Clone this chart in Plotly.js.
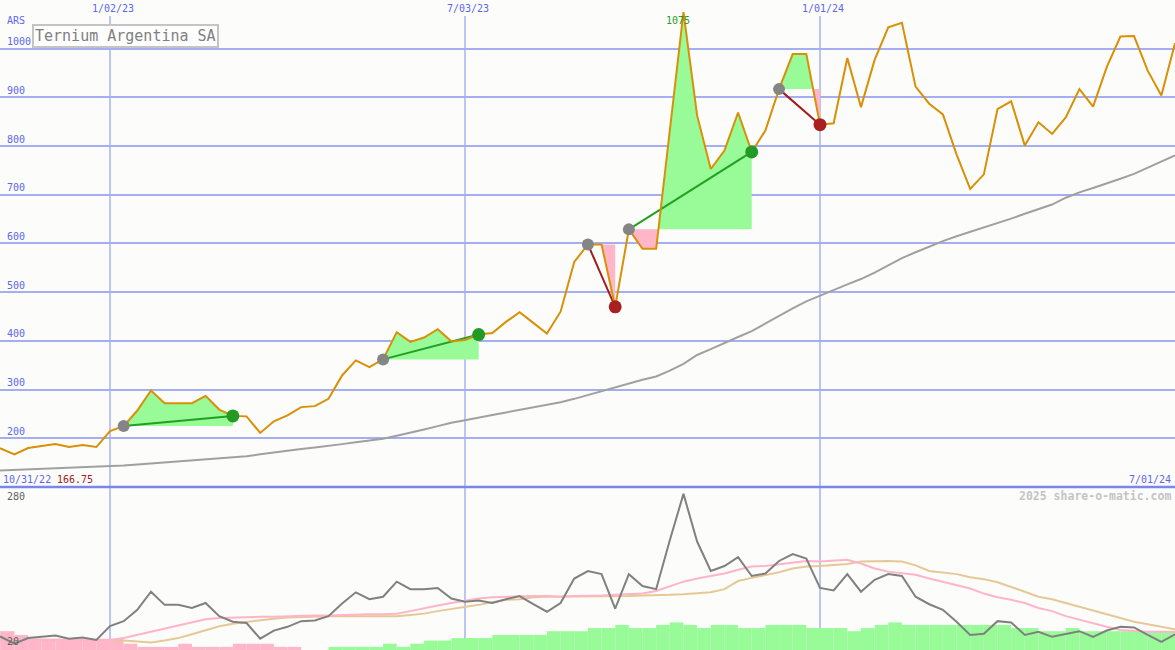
<!DOCTYPE html>
<html><head><meta charset="utf-8">
<script src="https://cdn.plot.ly/plotly-3.0.1.min.js"></script>
<style>html,body{margin:0;padding:0;background:#fcfdfb;}#chart{width:1175px;height:650px;}</style>
</head><body><div id="chart"></div>
<script>
// ---- data (weekly) ----
const dates = ['2022-10-31','2022-11-07','2022-11-14','2022-11-21','2022-11-28','2022-12-05','2022-12-12','2022-12-19','2022-12-26',
'2023-01-02','2023-01-09','2023-01-16','2023-01-23','2023-01-30','2023-02-06','2023-02-13','2023-02-20','2023-02-27','2023-03-06',
'2023-03-13','2023-03-20','2023-03-27','2023-04-03','2023-04-10','2023-04-17','2023-04-24','2023-05-01','2023-05-08','2023-05-15',
'2023-05-22','2023-05-29','2023-06-05','2023-06-12','2023-06-19','2023-06-26','2023-07-03','2023-07-10','2023-07-17','2023-07-24',
'2023-07-31','2023-08-07','2023-08-14','2023-08-21','2023-08-28','2023-09-04','2023-09-11','2023-09-18','2023-09-25','2023-10-02',
'2023-10-09','2023-10-16','2023-10-23','2023-10-30','2023-11-06','2023-11-13','2023-11-20','2023-11-27','2023-12-04','2023-12-11',
'2023-12-18','2023-12-25','2024-01-01','2024-01-08','2024-01-15','2024-01-22','2024-01-29','2024-02-05','2024-02-12','2024-02-19',
'2024-02-26','2024-03-04','2024-03-11','2024-03-18','2024-03-25','2024-04-01','2024-04-08','2024-04-15','2024-04-22','2024-04-29',
'2024-05-06','2024-05-13','2024-05-20','2024-05-27','2024-06-03','2024-06-10','2024-06-17','2024-06-24','2024-07-01'];

const price = [176,179,166.75,180,184,188,182,186,182,
215,225,257,298,272,272,272,287,259,246,
245,211,235,247,264,266,281,329,360,346,
362,418,398,407,424,399,402,413,416,439,
459,437,415,460,562,598,598,470,629,589,
589,832,1075,863,753,791,869,788,832,917,
989,989,844,847,981,880,977,1044,1053,922,
887,865,783,712,742,876,892,801,849,825,
859,917,881,962,1025,1026,955,904,1011];

const priceMA = [133,134,135,136,137,138,139,140,141,
143,144,146,148,150,152,154,156,158,160,
163,167,171,175,178,181,184,188,192,196,
199,205,211,218,225,232,237,243,248,253,
258,263,268,274,281,289,297,305,313,320,
327,339,353,371,383,396,408,420,436,452,
467,481,493,505,516,527,540,555,570,582,
594,605,615,624,632,641,651,661,671,680,
694,705,714,723,733,743,756,768,781];

const lowerLine = [44,41,30,39,41,43,38,40,36,
58,66,84,113,92,92,87,95,74,65,
63,38,51,57,66,67,74,94,112,101,
105,129,117,117,119,102,97,99,95,101,
106,93,81,95,134,146,141,86,141,122,
117,195,269,193,146,154,168,138,142,162,
173,166,119,115,141,113,132,141,138,105,
93,84,65,44,46,66,64,44,49,41,
45,50,41,51,57,56,44,33,45];

const lowerFastMA = [36,36,36,36,36,36,36,36,36,
36,39,44,49,54,59,64,69,71,72,
72,73,73,74,74,75,75,76,76,77,
77,78,82,87,91,95,99,102,104,105,
105,106,106,105,106,106,107,108,109,110,
114,121,129,134,138,142,148,153,154,157,
160,162,161,162,164,158,150,145,143,140,
134,129,124,118,110,104,100,95,87,82,
74,68,62,57,52,50,49,49,49];

const lowerSlowMA = [37,37,37,37,36,36,36,36,36,
36,35,33,32,35,39,45,52,58,62,
65,67,70,72,73,73,74,74,74,73,
73,74,76,78,82,85,89,92,96,100,
101,104,105,105,106,106,106,106,106,107,
107,108,109,110,112,117,130,135,139,144,
150,153,154,155,157,161,162,162,161,155,
146,144,141,136,133,128,121,113,105,101,
95,89,83,77,71,65,61,57,53];

const lowerHist = [-30,-30,-24,-18,-18,-18,-18,-18,-18,
-18,-10,-5,-5,-5,-10,-5,-5,-5,-10,
-10,-10,-5,-5,0,0,5,5,5,5,
10,5,10,15,15,19,19,19,24,24,
24,24,30,30,30,35,35,40,35,35,
40,44,40,35,40,40,35,35,40,40,
40,35,35,35,30,35,40,44,40,40,
40,40,40,40,40,40,35,35,30,30,
35,30,30,30,30,30,30,30,30];

const tradeEntries = ['2023-01-09','2023-05-22','2023-09-04','2023-09-25','2023-12-11'];
const tradeExits   = ['2023-03-06','2023-07-10','2023-09-18','2023-11-27','2024-01-01'];

const yTicks = [200,300,400,500,600,700,800,900,1000];
const dateTicks = ['2023-01-02','2023-07-03','2024-01-01'];
const dateTickLabels = ['1/02/23','7/03/23','1/01/24'];
const titleText = 'Ternium Argentina SA';
const currency = 'ARS';
const startLabel = '10/31/22';
const minLabel = '166.75';
const endLabel = '7/01/24';
const creditText = '2025 share-o-matic.com';
const lowerTop = 280, lowerBottom = 20;

// ---- build ----
const W = 1175, H = 650;
const SPLIT = 0.2508;
const px = v => v / W, py = v => 1 - v / H;
const tms = dates.map(d => Date.parse(d));
const FONT = 'DejaVu Sans Mono';
const BLUE = '#5c66ea';

const traces = [];
// histogram bars (bottom panel)
traces.push({
  type: 'bar', x: dates, y: lowerHist.map(Math.abs), base: lowerBottom,
  width: 7 * 86400000, offset: 0, xaxis: 'x', yaxis: 'y2',
  marker: {color: lowerHist.map(v => v < 0 ? '#ffb6c8' : '#98fb98'), line: {width: 0}},
  hoverinfo: 'skip', showlegend: false
});
[[lowerSlowMA, '#e6c896'], [lowerFastMA, '#ffb4c8'], [lowerLine, '#808080']].forEach(([arr, c]) => {
  traces.push({type: 'scatter', mode: 'lines', x: dates, y: arr, xaxis: 'x', yaxis: 'y2',
    line: {color: c, width: 2}, hoverinfo: 'skip', showlegend: false});
});

// trade fills
function fillsFor(ei, xi) {
  const lvl = price[ei];
  const pts = [];
  for (let i = ei; i <= xi; i++) {
    pts.push([tms[i], price[i]]);
    if (i < xi) {
      const a = price[i] - lvl, b = price[i + 1] - lvl;
      if (a * b < 0) { const f = a / (a - b); pts.push([tms[i] + f * (tms[i + 1] - tms[i]), lvl]); }
    }
  }
  const mk = (fn, color) => {
    const xs = pts.map(p => p[0]), ys = pts.map(p => fn(p[1], lvl));
    xs.push(tms[xi], tms[ei]); ys.push(lvl, lvl);
    return {type: 'scatter', mode: 'lines', x: xs, y: ys, fill: 'toself', fillcolor: color,
      line: {width: 0, color: color}, hoverinfo: 'skip', showlegend: false, xaxis: 'x', yaxis: 'y'};
  };
  return [mk(Math.max, '#98fb98'), mk(Math.min, '#ffb6c8')];
}
const trades = tradeEntries.map((d, j) => {
  const ei = dates.indexOf(d), xi = dates.indexOf(tradeExits[j]);
  return {ei, xi, win: price[xi] >= price[ei]};
});
trades.forEach(t => fillsFor(t.ei, t.xi).forEach(tr => traces.push(tr)));

// long moving average
traces.push({type: 'scatter', mode: 'lines', x: dates, y: priceMA, xaxis: 'x', yaxis: 'y',
  line: {color: '#a0a0a0', width: 2}, hoverinfo: 'skip', showlegend: false});

// trade lines
trades.forEach(t => {
  traces.push({type: 'scatter', mode: 'lines', x: [dates[t.ei], dates[t.xi]], y: [price[t.ei], price[t.xi]],
    xaxis: 'x', yaxis: 'y', line: {color: t.win ? '#22a022' : '#a01c1c', width: 2},
    hoverinfo: 'skip', showlegend: false});
});
// price line
traces.push({type: 'scatter', mode: 'lines', x: dates, y: price, xaxis: 'x', yaxis: 'y',
  line: {color: '#d98f06', width: 2}, hoverinfo: 'skip', showlegend: false});
// markers
traces.push({type: 'scatter', mode: 'markers', x: trades.map(t => dates[t.ei]), y: trades.map(t => price[t.ei]),
  xaxis: 'x', yaxis: 'y', marker: {color: '#858585', size: 12}, hoverinfo: 'skip', showlegend: false});
traces.push({type: 'scatter', mode: 'markers', x: trades.map(t => dates[t.xi]), y: trades.map(t => price[t.xi]),
  xaxis: 'x', yaxis: 'y', marker: {color: trades.map(t => t.win ? '#239a23' : '#a82020'), size: 13},
  hoverinfo: 'skip', showlegend: false});

// annotations
const ann = [];
const txt = (x, y, text, color, opts = {}) => Object.assign({
  xref: 'paper', yref: 'paper', x: px(x), y: py(y), text, showarrow: false,
  xanchor: 'left', yanchor: 'middle', font: {family: FONT, size: 10, color}
}, opts);
ann.push(txt(5, 21, currency, BLUE));
yTicks.forEach(v => ann.push({xref: 'paper', yref: 'y', x: px(5), y: v, yshift: 7, text: String(v),
  showarrow: false, xanchor: 'left', yanchor: 'middle', font: {family: FONT, size: 10, color: BLUE}}));
dateTicks.forEach((d, i) => ann.push({xref: 'x', yref: 'paper', x: d, y: py(9), xshift: 3, text: dateTickLabels[i],
  showarrow: false, xanchor: 'center', yanchor: 'middle', font: {family: FONT, size: 10, color: BLUE}}));
const pk = price.indexOf(Math.max(...price));
ann.push({xref: 'x', yref: 'paper', x: dates[pk], y: py(21), xshift: -5, text: String(price[pk]), showarrow: false,
  xanchor: 'center', yanchor: 'middle', font: {family: FONT, size: 10, color: '#2a9a2a'}});
ann.push(txt(1, 479, startLabel, BLUE));
ann.push(txt(55, 479, minLabel, '#a02020'));
ann.push(txt(1173, 479, endLabel, BLUE, {xanchor: 'right'}));
ann.push(txt(1173, 496, '<b>' + creditText + '</b>', '#c4c4c4', {xanchor: 'right', font: {family: FONT, size: 11.5, color: '#c4c4c4'}}));
ann.push(txt(5, 496, String(lowerTop), '#606060'));
ann.push(txt(5, 641, String(lowerBottom), '#606060'));
ann.push({xref: 'paper', yref: 'paper', x: px(32), y: py(24), xanchor: 'left', yanchor: 'top', text: titleText,
  showarrow: false, font: {family: FONT, size: 15, color: '#808080'}, bordercolor: '#c4c4c4', borderwidth: 2,
  borderpad: 1, bgcolor: '#fdfefd'});

// shapes: vertical grid lines + separator
const shapes = dateTicks.map(d => ({type: 'line', xref: 'x', yref: 'paper', x0: d, x1: d, y0: 0, y1: py(16),
  line: {color: '#a8b1f0', width: 1.5}, layer: 'below'}));
shapes.push({type: 'line', xref: 'paper', yref: 'paper', x0: 0, x1: 1, y0: SPLIT, y1: SPLIT,
  line: {color: '#7a86ec', width: 2.5}});

const layout = {
  width: W, height: H, margin: {l: 0, r: 0, t: 0, b: 0},
  paper_bgcolor: '#fcfdfb', plot_bgcolor: '#fcfdfb', showlegend: false, barmode: 'overlay',
  xaxis: {type: 'date', range: ['2022-11-06 14:24', '2024-07-01'], showgrid: false, zeroline: false,
    showticklabels: false, showline: false, ticks: '', anchor: 'y2', fixedrange: true},
  yaxis: {domain: [SPLIT, 1], range: [100, 1100], tickvals: yTicks, showticklabels: false, showgrid: true,
    gridcolor: '#a4aef0', gridwidth: 2, zeroline: false, showline: false, ticks: '', anchor: 'x'},
  yaxis2: {domain: [0, SPLIT], range: [lowerBottom, lowerTop], showgrid: false, showticklabels: false,
    zeroline: false, showline: false, ticks: '', anchor: 'x'},
  annotations: ann, shapes: shapes
};
Plotly.newPlot('chart', traces, layout, {staticPlot: true, displayModeBar: false});
</script></body></html>
